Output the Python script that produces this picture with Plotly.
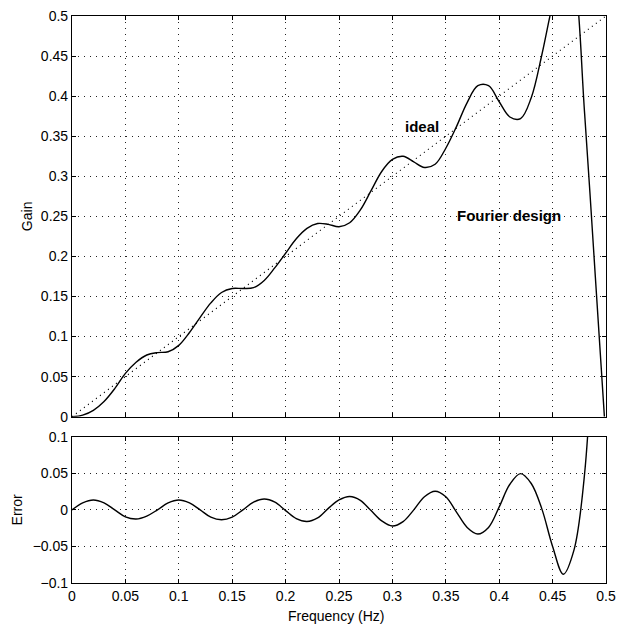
import plotly.graph_objects as go

# ---- data ----
freq_gain = [0.0, 0.01, 0.02, 0.03, 0.04, 0.05, 0.06, 0.07, 0.08, 0.09,
             0.10, 0.11, 0.12, 0.13, 0.14, 0.15, 0.16, 0.17, 0.18, 0.19,
             0.20, 0.21, 0.22, 0.23, 0.24, 0.25, 0.26, 0.27, 0.28, 0.29,
             0.30, 0.31, 0.32, 0.33, 0.34, 0.35, 0.36, 0.37, 0.38, 0.39,
             0.40, 0.41, 0.42, 0.43, 0.44, 0.45, 0.46, 0.465, 0.47, 0.48,
             0.49, 0.4985]
gain_fourier = [0.0, 0.002, 0.008, 0.019, 0.035, 0.054, 0.068, 0.077, 0.080, 0.081,
                0.089, 0.105, 0.124, 0.142, 0.155, 0.160, 0.160, 0.161, 0.170, 0.186,
                0.204, 0.222, 0.235, 0.241, 0.240, 0.237, 0.242, 0.258, 0.282, 0.306,
                0.321, 0.325, 0.318, 0.311, 0.315, 0.335, 0.362, 0.392, 0.413, 0.413,
                0.393, 0.374, 0.372, 0.398, 0.452, 0.515, 0.565, 0.570, 0.555, 0.378,
                0.175, 0.0]

freq_ideal = [0.0, 0.5]
gain_ideal = [0.0, 0.5]

freq_err = [0.0, 0.01, 0.02, 0.03, 0.04, 0.05, 0.06, 0.07, 0.08, 0.09,
            0.10, 0.11, 0.12, 0.13, 0.14, 0.15, 0.16, 0.17, 0.18, 0.19,
            0.20, 0.21, 0.22, 0.23, 0.24, 0.25, 0.26, 0.27, 0.28, 0.29,
            0.30, 0.31, 0.32, 0.33, 0.34, 0.35, 0.36, 0.37, 0.38, 0.39,
            0.40, 0.41, 0.42, 0.43, 0.44, 0.45, 0.46, 0.47, 0.48, 0.49]
error_vals = [0.0, 0.0095, 0.0135, 0.0095, 0.0, -0.0095, -0.0125, -0.0085, 0.0, 0.0095,
              0.0135, 0.0095, 0.0, -0.010, -0.0135, -0.010, 0.0, 0.0105, 0.0148, 0.0105,
              -0.001, -0.012, -0.016, -0.011, 0.002, 0.0135, 0.0182, 0.013, -0.001, -0.015,
              -0.022, -0.016, 0.0, 0.018, 0.0255, 0.018, -0.003, -0.024, -0.033, -0.024,
              0.004, 0.035, 0.0495, 0.036, 0.001, -0.050, -0.088, -0.055, 0.050, 0.30]

x_ticks = [0, 0.05, 0.1, 0.15, 0.2, 0.25, 0.3, 0.35, 0.4, 0.45, 0.5]
gain_ticks = [0, 0.05, 0.1, 0.15, 0.2, 0.25, 0.3, 0.35, 0.4, 0.45, 0.5]
err_ticks = [-0.1, -0.05, 0, 0.05, 0.1]

FONT = "Liberation Sans, Arial, Helvetica, sans-serif"

fig = go.Figure()
fig.add_trace(go.Scatter(x=freq_ideal, y=gain_ideal, mode="lines",
                         line=dict(color="black", width=1.2, dash="1px,4px"),
                         xaxis="x2", yaxis="y2", showlegend=False))
fig.add_trace(go.Scatter(x=freq_gain, y=gain_fourier, mode="lines",
                         line=dict(color="black", width=1.4, shape="spline", smoothing=1.0),
                         xaxis="x2", yaxis="y2", showlegend=False))
fig.add_trace(go.Scatter(x=freq_err, y=error_vals, mode="lines",
                         line=dict(color="black", width=1.4, shape="spline", smoothing=1.0),
                         xaxis="x", yaxis="y", showlegend=False))

axis_common = dict(showline=True, linecolor="black", linewidth=1.2, mirror="ticks",
                   ticks="inside", ticklen=4, tickcolor="black",
                   showgrid=True, gridcolor="#222", gridwidth=1, griddash="1px,5px",
                   zeroline=False, tickfont=dict(family=FONT, size=14, color="black"))

fig.update_layout(
    width=630, height=624,
    margin=dict(l=72, r=24, t=16, b=41, autoexpand=False),
    paper_bgcolor="white", plot_bgcolor="white",
    font=dict(family=FONT, size=14, color="black"),
    xaxis=dict(domain=[0, 1], range=[0, 0.5], tickvals=x_ticks,
               ticktext=[("%g" % v) for v in x_ticks], anchor="y", **axis_common),
    yaxis=dict(domain=[0, 0.258], range=[-0.1, 0.1], tickvals=err_ticks,
               ticktext=["\u22120.1", "\u22120.05", "0", "0.05", "0.1"], anchor="x",
               title=dict(text="Error", standoff=6, font=dict(family=FONT, size=14)),
               **axis_common),
    xaxis2=dict(domain=[0, 1], range=[0, 0.5], tickvals=x_ticks, showticklabels=False,
                anchor="y2", matches="x", **axis_common),
    yaxis2=dict(domain=[0.2933, 1], range=[0, 0.5], tickvals=gain_ticks,
                ticktext=[("%g" % v) for v in gain_ticks], anchor="x2",
                title=dict(text="Gain", standoff=4, font=dict(family=FONT, size=14)),
                **axis_common),
    annotations=[
        dict(x=0.310, y=0.362, xref="x2", yref="y2", text="<b>ideal</b>",
             showarrow=False, xanchor="left", yanchor="middle",
             font=dict(family=FONT, size=15, color="black")),
        dict(x=0.359, y=0.2515, xref="x2", yref="y2", text="<b>Fourier design</b>",
             showarrow=False, xanchor="left", yanchor="middle",
             font=dict(family=FONT, size=15, color="black")),
        dict(x=0.495, y=0, xref="paper", yref="paper", text="Frequency (Hz)",
             showarrow=False, xanchor="center", yanchor="middle", yshift=-33,
             font=dict(family=FONT, size=14, color="black")),
    ],
)

fig.write_html("out.html")
